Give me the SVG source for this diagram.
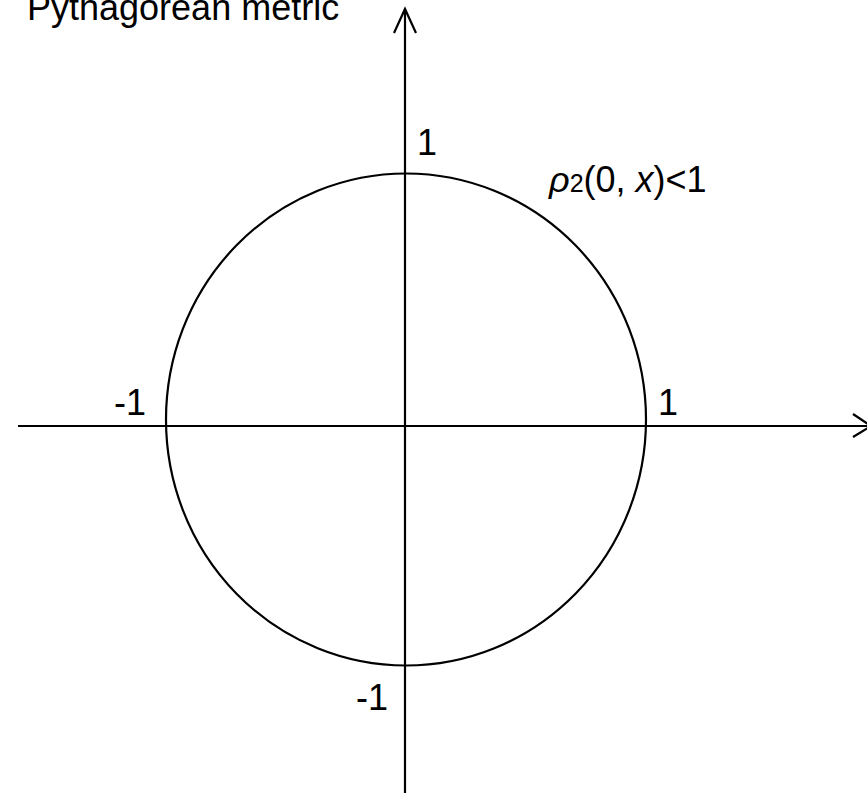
<svg xmlns="http://www.w3.org/2000/svg" width="867" height="793" viewBox="0 0 867 793">
<style>
.ln{fill:none;stroke:#000;stroke-width:2.2}
text{font-family:"Liberation Sans",Arial,sans-serif;font-size:36px;fill:#000}
</style>
<rect width="867" height="793" fill="#fff"/>
<g id="connectors">
<line class="ln" x1="405" y1="793" x2="405" y2="9"/>
<polyline class="ln" points="394,33 405,9 416,33"/>
<line class="ln" x1="18" y1="426" x2="867" y2="426"/>
<polyline class="ln" points="853,414 871,426 853,437"/>
</g>
<g id="circle">
<ellipse class="ln" cx="406" cy="419.5" rx="240" ry="246"/>
</g>
<g id="labels">
<text x="27" y="20" font-size="37.5">Pythagorean metric</text>
<text x="417" y="155">1</text>
<text x="658" y="415">1</text>
<text x="114" y="415">-1</text>
<text x="356" y="710">-1</text>
<text x="549" y="192"><tspan font-style="italic">ρ</tspan><tspan font-size="25">2</tspan>(0, <tspan font-style="italic">x</tspan>)&lt;1</text>
</g>
</svg>
